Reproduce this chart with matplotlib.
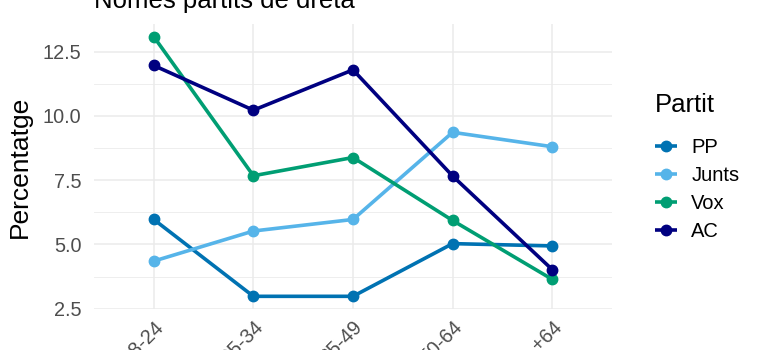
import numpy as np
import matplotlib
matplotlib.use("Agg")
import matplotlib.pyplot as plt
import matplotlib.transforms as mtransforms
from matplotlib.ticker import MultipleLocator

plt.rcParams['font.family'] = ['Liberation Sans', 'DejaVu Sans']

# data
edats = ["18-24", "25-34", "35-49", "50-64", "+64"]
partits = ["PP", "Junts", "Vox", "AC"]
pp = [5.97, 2.98, 2.98, 5.03, 4.94]
junts = [4.35, 5.52, 5.97, 9.36, 8.80]
vox = [13.08, 7.67, 8.38, 5.93, 3.64]
ac = [11.96, 10.22, 11.79, 7.66, 4.02]
colors = ["#0072B2", "#56B4E9", "#009E73", "#000080"]

series = [pp, junts, vox, ac]

fig = plt.figure(figsize=(7.68, 3.5), dpi=100)
ax = fig.add_axes([94/768, 1 - 309.3/350, (612 - 94)/768, (309.3 - 23.7)/350])

x = np.arange(len(edats))
for vals, name, c in zip(series, partits, colors):
    ax.plot(x, vals, color=c, lw=2.6, marker='o', ms=7.5, label=name,
            solid_capstyle='butt', zorder=3)

# ggplot-like expansion
allv = np.concatenate([np.array(s) for s in series])
lo, hi = allv.min(), allv.max()
pad = 0.05*(hi - lo)
ax.set_ylim(lo - pad, hi + pad)
ax.set_xlim(-0.6, len(edats) - 0.4)

ax.set_xticks(x)
ax.set_xticklabels(edats, rotation=45, ha='right', rotation_mode='anchor')
shift = mtransforms.ScaledTranslation(8/100, 0, fig.dpi_scale_trans)
for lab in ax.get_xticklabels():
    lab.set_transform(lab.get_transform() + shift)
ax.yaxis.set_major_locator(MultipleLocator(2.5))
ax.yaxis.set_minor_locator(MultipleLocator(1.25))
ax.yaxis.set_major_formatter(matplotlib.ticker.FormatStrFormatter('%.1f'))

ax.grid(True, which='major', color='#EBEBEB', lw=1.1, zorder=0)
ax.grid(True, which='minor', axis='y', color='#EBEBEB', lw=0.6, zorder=0)
ax.set_axisbelow(True)
for s in ax.spines.values():
    s.set_visible(False)
ax.tick_params(axis='both', which='both', length=0, labelsize=14.3,
               labelcolor='#4D4D4D')
ax.tick_params(axis='y', pad=9)
ax.tick_params(axis='x', pad=6)

ax.set_ylabel("Percentatge", fontsize=19, labelpad=8)

fig.text(94/768, 1 - 8/350, "Només partits de dreta", fontsize=18.5,
         va='baseline', ha='left')

leg = ax.legend(title="Partit", loc='upper left',
                bbox_to_anchor=(655/768, 1 - 93/350),
                bbox_transform=fig.transFigure, frameon=False,
                fontsize=14.5, title_fontsize=18.5, handlelength=1.1,
                handletextpad=0.7, labelspacing=0.45, borderaxespad=0,
                borderpad=0)
leg._legend_box.align = "left"
leg._legend_box.sep = 15

fig.savefig("out.png", dpi=100, facecolor='white')
